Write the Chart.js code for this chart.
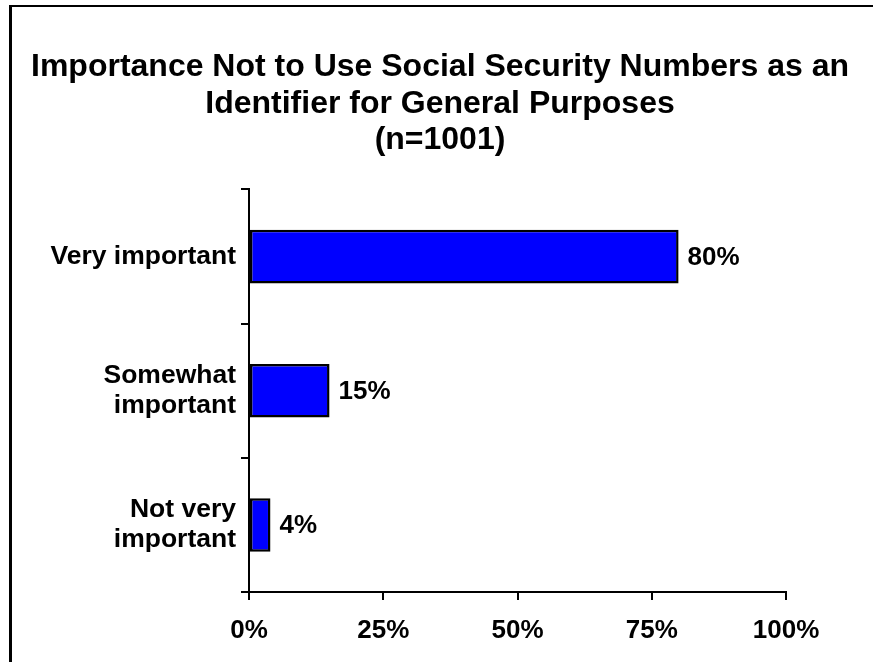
<!DOCTYPE html>
<html>
<head>
<meta charset="utf-8">
<script src="https://cdn.jsdelivr.net/npm/chart.js@4/dist/chart.umd.min.js"></script>
<style>
    html, body { margin: 0; padding: 0; background: #fff; }
    #wrap { position: relative; width: 873px; height: 662px; overflow: hidden; }
    #frame {
        position: absolute; left: 9px; top: 5px; right: -10px; bottom: -10px;
        border-left: 3px solid #000; border-top: 2px solid #000;
        pointer-events: none;
    }
    canvas { position: absolute; left: 0; top: 0; }
</style>
</head>
<body>
<div id="wrap">
    <canvas id="ssnChart" width="873" height="662"></canvas>
    <div id="frame"></div>
</div>
<script>
const titleLines = [
    "Importance Not to Use Social Security Numbers as an",
    "Identifier for General Purposes",
    "(n=1001)"
];
const categories = [
    "Very important",
    ["Somewhat", "important"],
    ["Not very", "important"]
];
const percentages = [80, 15, 4];
const axisTicks = [0, 25, 50, 75, 100];

const FONT = 'Arial, "Liberation Sans", sans-serif';

// Writes the percentage just to the right of each bar
const valueLabels = {
    id: "valueLabels",
    afterDatasetsDraw(chart) {
        const ctx = chart.ctx;
        const meta = chart.getDatasetMeta(0);
        ctx.save();
        ctx.font = "bold 26px " + FONT;
        ctx.fillStyle = "#000";
        ctx.textAlign = "left";
        ctx.textBaseline = "middle";
        meta.data.forEach((bar, i) => {
            ctx.fillText(percentages[i] + "%", bar.x + 9, bar.y + 1);
        });
        ctx.restore();
    }
};

const ctx = document.getElementById("ssnChart").getContext("2d");
new Chart(ctx, {
    type: "bar",
    data: {
        labels: categories,
        datasets: [{
            data: percentages,
            backgroundColor: "#0000FF",
            borderColor: "#000",
            borderWidth: 2.5,
            borderSkipped: false,
            barPercentage: 0.4,
            categoryPercentage: 1.0
        }]
    },
    options: {
        indexAxis: "y",
        responsive: false,
        animation: false,
        layout: { padding: { top: 0, left: 10, right: 3, bottom: 0 } },
        plugins: {
            legend: { display: false },
            tooltip: { enabled: false },
            title: {
                display: true,
                text: titleLines,
                color: "#000",
                font: { family: FONT, size: 32, weight: "bold", lineHeight: 1.14 },
                padding: { top: 49, bottom: 31 }
            }
        },
        scales: {
            x: {
                type: "linear",
                min: 0,
                max: 100,
                afterBuildTicks(scale) {
                    scale.ticks = axisTicks.map(v => ({ value: v }));
                },
                grid: {
                    drawOnChartArea: false,
                    drawTicks: true,
                    tickLength: 8,
                    color: "#000",
                    lineWidth: 2
                },
                border: { color: "#000", width: 2 },
                ticks: {
                    color: "#000",
                    padding: 16,
                    maxRotation: 0,
                    font: { family: FONT, size: 26, weight: "bold", lineHeight: 1.15 },
                    callback: v => v + "%"
                }
            },
            y: {
                type: "category",
                offset: true,
                afterFit(scale) { scale.width = 239; },
                grid: {
                    offset: true,
                    drawOnChartArea: false,
                    drawTicks: true,
                    tickLength: 8,
                    color: "#000",
                    lineWidth: 2
                },
                border: { color: "#000", width: 2 },
                ticks: {
                    color: "#000",
                    padding: 5,
                    font: { family: FONT, size: 26.5, weight: "bold", lineHeight: 1.13 }
                }
            },
            // empty right-hand margin so the plot ends at 100% well before the edge
            spacer: {
                type: "linear",
                position: "right",
                display: true,
                grid: { display: false },
                border: { display: false },
                ticks: { display: false },
                afterFit(scale) { scale.width = 84; }
            }
        }
    },
    plugins: [valueLabels]
});
</script>
</body>
</html>
